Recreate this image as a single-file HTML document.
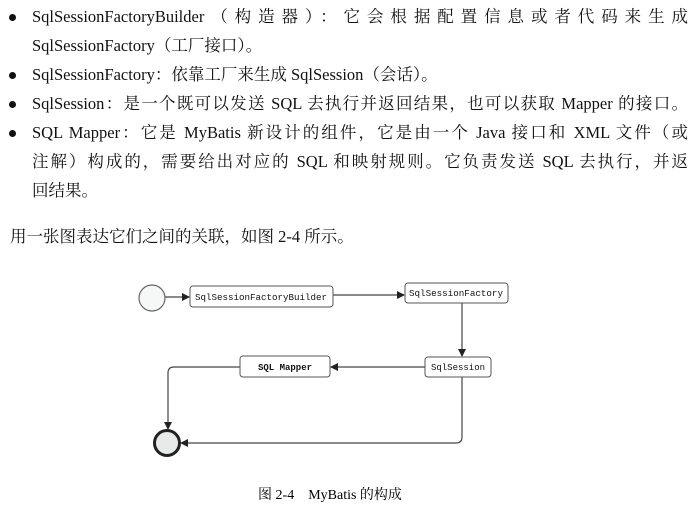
<!DOCTYPE html>
<html><head><meta charset="utf-8"><style>
body{margin:0;width:699px;height:517px;background:#fff;position:relative;overflow:hidden;font-family:"Liberation Serif","Noto Serif CJK SC",serif;color:#111}
.l{position:absolute;left:32px;font-size:16.5px;white-space:nowrap;line-height:20px}
.b{position:absolute;left:9px;width:7px;height:7px;border-radius:50%;background:#111}
.j{text-align:justify;text-align-last:justify;width:656px}
</style></head><body>
<div class="b" style="top:14px"></div>
<div class="l j" style="top:7px">SqlSessionFactoryBuilder（构造器）：它会根据配置信息或者代码来生成</div>
<div class="l" style="top:36px">SqlSessionFactory（工厂接口）。</div>
<div class="b" style="top:72px"></div>
<div class="l" style="top:65px">SqlSessionFactory：依靠工厂来生成 SqlSession（会话）。</div>
<div class="b" style="top:101px"></div>
<div class="l j" style="top:94px">SqlSession：是一个既可以发送 SQL 去执行并返回结果，也可以获取 Mapper 的接口。</div>
<div class="b" style="top:130px"></div>
<div class="l j" style="top:123px">SQL Mapper：它是 MyBatis 新设计的组件，它是由一个 Java 接口和 XML 文件（或</div>
<div class="l j" style="top:152px">注解）构成的，需要给出对应的 SQL 和映射规则。它负责发送 SQL 去执行，并返</div>
<div class="l" style="top:181px">回结果。</div>
<div class="l" style="top:227px;left:10px">用一张图表达它们之间的关联，如图 2-4 所示。</div>
<svg width="699" height="517" style="position:absolute;left:0;top:0">
<defs><marker id="a" markerWidth="8" markerHeight="8" refX="7" refY="4" orient="auto" markerUnits="userSpaceOnUse"><path d="M0,0 L8,4 L0,8z" fill="#222"/></marker></defs>
<g stroke="#444" stroke-width="1.2" fill="none">
<line x1="165" y1="297" x2="189" y2="297" marker-end="url(#a)"/>
<line x1="333" y1="295" x2="404" y2="295" marker-end="url(#a)"/>
<line x1="462" y1="303" x2="462" y2="356" marker-end="url(#a)"/>
<line x1="425" y1="367" x2="331" y2="367" marker-end="url(#a)"/>
<path d="M240,367 H174 Q168,367 168,373 V429" marker-end="url(#a)"/>
<path d="M462,377 V437 Q462,443 456,443 H181" marker-end="url(#a)"/>
</g>
<circle cx="152" cy="298" r="13" fill="#f6f8f8" stroke="#666" stroke-width="1.2"/>
<circle cx="167" cy="443" r="12.5" fill="#e8eaea" stroke="#222" stroke-width="3"/>
<g fill="#fff" stroke="#555" stroke-width="1">
<rect x="190" y="286" width="143" height="21" rx="3"/>
<rect x="405" y="283" width="103" height="20" rx="3"/>
<rect x="425" y="357" width="66" height="20" rx="3"/>
<rect x="240" y="356" width="90" height="21" rx="3"/>
</g>
<g font-family="Liberation Mono,monospace" font-size="9" fill="#111" text-anchor="middle">
<text x="261" y="300" textLength="132" lengthAdjust="spacingAndGlyphs">SqlSessionFactoryBuilder</text>
<text x="456" y="296" textLength="94" lengthAdjust="spacingAndGlyphs">SqlSessionFactory</text>
<text x="458" y="370">SqlSession</text>
<text x="285" y="370" font-weight="bold">SQL Mapper</text>
</g>
<text x="330" y="499" font-size="14" text-anchor="middle" font-family="Liberation Serif,Noto Serif CJK SC,serif">图 2-4　MyBatis 的构成</text>
</svg>
</body></html>
